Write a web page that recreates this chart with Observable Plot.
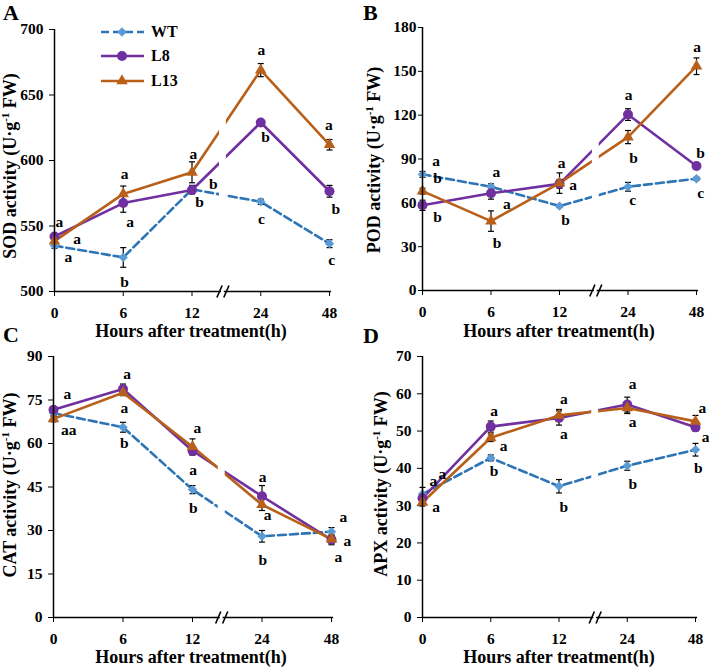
<!DOCTYPE html>
<html><head><meta charset="utf-8">
<script src="https://cdn.jsdelivr.net/npm/d3@7"></script>
<script src="https://cdn.jsdelivr.net/npm/@observablehq/plot@0.6"></script>
<style>
body{margin:0;background:#fff;}
#root{position:relative;width:709px;height:671px;overflow:hidden;font-family:"Liberation Serif","Times New Roman",serif;font-weight:bold;color:#000;}
.abs{position:absolute;white-space:nowrap;line-height:1;}
.plet{font-size:22px;line-height:normal;}
.xt{font-size:18px;transform:translateX(-50%);}
.yt{font-size:18px;transform:translate(-50%,-50%) rotate(-90deg);}
.yt sup{font-size:11px;vertical-align:7px;line-height:0;}
.leg{font-size:16px;display:flex;align-items:center;height:20px;}
svg.plot{position:absolute;}
</style></head>
<body><div id="root"></div>
<script>
// ---------- data ----------
const hours = ["0", "6", "12", "24", "48"];
const seriesNames = ["WT", "L8", "L13"];

// SOD (A)
const sodWT  = [535, 526, 578, 568.5, 536.5];
const sodL8  = [542, 567.5, 577.5, 629, 576.5];
const sodL13 = [538.5, 574.5, 591, 669, 612];
const sodErrWT  = [2, 7.5, 3, 2, 3];
const sodErrL8  = [2, 7, 3, 2, 4.5];
const sodErrL13 = [2, 6, 8, 5, 4];
const sodTicks = [500, 550, 600, 650, 700];
const sodLetters = [
  {t: 0.07, v: 552.7, s: "a"}, {t: 0.33, v: 539.7, s: "a"}, {t: 0.2, v: 526, s: "a"},
  {t: 1.02, v: 590, s: "a"}, {t: 1.1, v: 552.7, s: "a"}, {t: 1.02, v: 507.6, s: "b"},
  {t: 2.02, v: 605.3, s: "a"}, {t: 2.31, v: 582.4, s: "b"}, {t: 2.11, v: 568, s: "b"},
  {t: 3.01, v: 684, s: "a"}, {t: 3.07, v: 617.6, s: "b"}, {t: 3.01, v: 555, s: "c"},
  {t: 3.99, v: 626.7, s: "a"}, {t: 4.09, v: 562.6, s: "b"}, {t: 4.03, v: 523.7, s: "c"}
];

// POD (B)
const podWT  = [79.5, 71, 57.8, 71, 76.5];
const podL8  = [58.3, 66.5, 73, 120.4, 85.2];
const podL13 = [68, 47.5, 73.5, 105, 153.5];
const podErrWT  = [2, 2, 1, 3, 1];
const podErrL8  = [3.5, 4, 3, 4, 1];
const podErrL13 = [2, 7, 7, 4.5, 5.7];
const podTicks = [0, 30, 60, 90, 120, 150, 180];
const podLetters = [
  {t: 0.2, v: 88.3, s: "a"}, {t: 0.22, v: 77.3, s: "b"}, {t: 0.22, v: 50, s: "b"},
  {t: 1.08, v: 80.8, s: "a"}, {t: 1.23, v: 59.5, s: "a"}, {t: 1.09, v: 32.2, s: "b"},
  {t: 2.03, v: 86.9, s: "a"}, {t: 2.2, v: 71.9, s: "a"}, {t: 2.09, v: 47.9, s: "b"},
  {t: 3.01, v: 133.5, s: "a"}, {t: 3.08, v: 91, s: "b"}, {t: 3.07, v: 61.6, s: "c"},
  {t: 4.01, v: 166.3, s: "a"}, {t: 4.06, v: 94.4, s: "b"}, {t: 4.06, v: 66.4, s: "c"}
];

// CAT (C)
const catWT  = [70.5, 65.6, 44.1, 28, 29.6];
const catL8  = [71.6, 78.8, 57.5, 41.8, 26.8];
const catL13 = [68.5, 77.5, 58.9, 38.9, 27];
const catErrWT  = [1, 1.7, 1.4, 2, 1.4];
const catErrL8  = [1, 1.7, 1.5, 3.7, 1.7];
const catErrL13 = [1, 1, 2.7, 2, 1];
const catTicks = [0, 15, 30, 45, 60, 75, 90];
const catLetters = [
  {t: 0.2, v: 76.9, s: "a"}, {t: 0.22, v: 64.8, s: "aa"},
  {t: 1.06, v: 84.1, s: "a"}, {t: 1.02, v: 72.4, s: "a"}, {t: 1.02, v: 60, s: "b"},
  {t: 2.07, v: 65.5, s: "a"}, {t: 2.01, v: 51, s: "a"}, {t: 2.01, v: 37.9, s: "b"},
  {t: 3.01, v: 48.3, s: "a"}, {t: 3.08, v: 35.2, s: "a"}, {t: 3.01, v: 19.7, s: "b"},
  {t: 4.17, v: 34.5, s: "a"}, {t: 4.23, v: 26.2, s: "a"}, {t: 4.1, v: 21, s: "a"}
];

// APX (D)
const apxWT  = [33.1, 42.8, 35.2, 40.7, 45];
const apxL8  = [32, 51.2, 53.5, 57.1, 51];
const apxL13 = [30.9, 48.2, 54.2, 56.2, 52.6];
const apxErrWT  = [1.8, 0.8, 1.8, 1.2, 1.7];
const apxErrL8  = [1, 1.5, 1.9, 2, 1];
const apxErrL13 = [1, 1, 1.6, 1.5, 1.6];
const apxTicks = [0, 10, 20, 30, 40, 50, 60, 70];
const apxLetters = [
  {t: 0.29, v: 38.4, s: "a"}, {t: 0.16, v: 36.5, s: "a"}, {t: 0.2, v: 29.5, s: "a"},
  {t: 1.05, v: 55.3, s: "a"}, {t: 1.19, v: 45.9, s: "a"}, {t: 1.05, v: 39.2, s: "b"},
  {t: 2.07, v: 58.7, s: "a"}, {t: 2.07, v: 49.1, s: "a"}, {t: 2.07, v: 29.5, s: "b"},
  {t: 3.08, v: 62.5, s: "a"}, {t: 3.08, v: 52.3, s: "a"}, {t: 3.08, v: 35.9, s: "b"},
  {t: 4.1, v: 56.1, s: "a"}, {t: 4.15, v: 48.5, s: "a"}, {t: 4.04, v: 40.2, s: "b"}
];

// ---------- styles ----------
const FONT = '"Liberation Serif","Times New Roman",serif';
const styleOf = {
  WT:  {stroke: "#2e75b6", fill: "#5b9bd5", dash: "8,4", symbol: "diamond2", r: 4.2},
  L8:  {stroke: "#7030a0", fill: "#7030a0", dash: null, symbol: "circle", r: 5},
  L13: {stroke: "#b8601a", fill: "#b8601a", dash: null, symbol: "triangle", r: 4.3}
};
const d3Symbols = {diamond2: d3.symbolDiamond2, circle: d3.symbolCircle, triangle: d3.symbolTriangle};
const capSymbol = {draw(ctx) { ctx.moveTo(-3, 0); ctx.lineTo(3, 0); }};
const slashSymbol = {draw(ctx) { ctx.moveTo(-2.6, 6); ctx.lineTo(2.6, -6); }};

function panel(cfg) {
  const rows = [];
  seriesNames.forEach((s, k) => {
    cfg.vals[k].forEach((v, i) => rows.push({s, t: i, v, e: cfg.errs[k][i]}));
  });
  const [ymin, ymax] = cfg.domain;
  const b = cfg.brk;
  const marks = [];
  for (const s of seriesNames) {
    const st = styleOf[s];
    marks.push(Plot.line(rows.filter(d => d.s === s), {
      x: "t", y: "v", stroke: st.stroke, strokeWidth: 2.6,
      strokeDasharray: st.dash || undefined
    }));
  }
  marks.push(Plot.rect([{x1: b - 0.05, x2: b + 0.05, y1: ymin, y2: ymax}],
    {x1: "x1", x2: "x2", y1: "y1", y2: "y2", fill: "white"}));
  marks.push(Plot.link(rows, {x1: "t", x2: "t", y1: d => d.v - d.e, y2: d => d.v + d.e, stroke: "black", strokeWidth: 1.2}));
  marks.push(Plot.dot(rows, {x: "t", y: d => d.v - d.e, symbol: capSymbol, stroke: "black", strokeWidth: 1.2, r: 3}));
  marks.push(Plot.dot(rows, {x: "t", y: d => d.v + d.e, symbol: capSymbol, stroke: "black", strokeWidth: 1.2, r: 3}));
  for (const s of seriesNames) {
    const st = styleOf[s];
    marks.push(Plot.dot(rows.filter(d => d.s === s), {
      x: "t", y: "v", symbol: st.symbol, r: st.r, fill: st.fill, stroke: "none"
    }));
  }
  // axis lines with break
  marks.push(Plot.ruleX([{x: 0}], {x: "x", y1: ymin, y2: ymax, stroke: "black", strokeWidth: 1.5}));
  marks.push(Plot.ruleY([{y: ymin, x1: 0, x2: b - 0.02}, {y: ymin, x1: b + 0.02, x2: 4.03}],
    {y: "y", x1: "x1", x2: "x2", stroke: "black", strokeWidth: 1.5}));
  marks.push(Plot.dot([{x: b - 0.05}, {x: b + 0.05}], {x: "x", y: () => ymin, symbol: slashSymbol, stroke: "black", strokeWidth: 1.6, fill: "none", r: 3}));
  marks.push(Plot.text(cfg.letters, {x: "t", y: "v", text: "s", fontSize: 15.5, fontWeight: "bold", fill: "black"}));

  const svg = Plot.plot({
    width: cfg.width, height: cfg.height,
    marginLeft: cfg.ml, marginRight: cfg.mr, marginTop: cfg.mt, marginBottom: cfg.mb,
    style: {fontFamily: FONT, fontSize: "15.5px", fontWeight: "bold", color: "black", background: "transparent", overflow: "visible"},
    x: {type: "linear", domain: [0, 4], ticks: [0, 1, 2, 3, 4], tickFormat: i => hours[i], tickSize: 5, tickPadding: 10, label: null},
    y: {domain: cfg.domain, ticks: cfg.ticks, tickSize: cfg.yts, tickPadding: cfg.ytp, label: null},
    marks
  });
  svg.classList.add("plot");
  svg.style.left = cfg.left + "px";
  svg.style.top = cfg.top + "px";
  return svg;
}

const root = document.getElementById("root");
root.appendChild(panel({left: 0, top: 0, width: 350, height: 330, ml: 54, mr: 21, mt: 29, mb: 39, yts: 5, ytp: 6,
  domain: [500, 700], ticks: sodTicks, vals: [sodWT, sodL8, sodL13], errs: [sodErrWT, sodErrL8, sodErrL13], letters: sodLetters, brk: 2.45}));
root.appendChild(panel({left: 350, top: 0, width: 359, height: 330, ml: 72, mr: 13, mt: 27, mb: 40, yts: 4, ytp: 2,
  domain: [0, 180], ticks: podTicks, vals: [podWT, podL8, podL13], errs: [podErrWT, podErrL8, podErrL13], letters: podLetters, brk: 2.53}));
root.appendChild(panel({left: 0, top: 328, width: 350, height: 328, ml: 53, mr: 19, mt: 28, mb: 39, yts: 5, ytp: 6,
  domain: [0, 90], ticks: catTicks, vals: [catWT, catL8, catL13], errs: [catErrWT, catErrL8, catErrL13], letters: catLetters, brk: 2.42}));
root.appendChild(panel({left: 350, top: 328, width: 359, height: 328, ml: 72, mr: 14, mt: 28, mb: 39, yts: 5, ytp: 6,
  domain: [0, 70], ticks: apxTicks, vals: [apxWT, apxL8, apxL13], errs: [apxErrWT, apxErrL8, apxErrL13], letters: apxLetters, brk: 2.53}));

// ---------- text ----------
function addText(cls, html, left, top) {
  const d = document.createElement("div");
  d.className = "abs " + cls;
  d.innerHTML = html;
  d.style.left = left + "px";
  d.style.top = top + "px";
  root.appendChild(d);
}
addText("plet", "A", 3, 0);
addText("plet", "B", 363, 0);
addText("plet", "C", 3, 322);
addText("plet", "D", 363, 323);
const xTitle = "Hours after treatment(h)";
addText("xt", xTitle, 191, 322);
addText("xt", xTitle, 559, 322);
addText("xt", xTitle, 191, 648);
addText("xt", xTitle, 559, 648);
const unit = " (U·g<sup>-1</sup> FW)";
addText("yt", "SOD activity" + unit, 10, 166);
addText("yt", "POD activity" + unit, 374, 160);
addText("yt", "CAT activity" + unit, 10, 485);
addText("yt", "APX activity" + unit, 381, 484);

// ---------- legend ----------
const legendRows = [{s: "WT", y: 22}, {s: "L8", y: 46}, {s: "L13", y: 71}];
for (const {s, y} of legendRows) {
  const st = styleOf[s];
  const d = document.createElement("div");
  d.className = "abs leg";
  d.style.left = "100px";
  d.style.top = y + "px";
  const sym = d3.symbol(d3Symbols[st.symbol], Math.PI * st.r * st.r)();
  d.innerHTML = `<svg width="47" height="20" style="margin-right:4px"><line x1="1" x2="44" y1="10" y2="10" stroke="${st.stroke}" stroke-width="2.6" ${st.dash ? `stroke-dasharray="${st.dash}"` : ""}/><path transform="translate(22,10)" d="${sym}" fill="${st.fill}"/></svg><span>${s}</span>`;
  root.appendChild(d);
}
</script>
</body></html>
